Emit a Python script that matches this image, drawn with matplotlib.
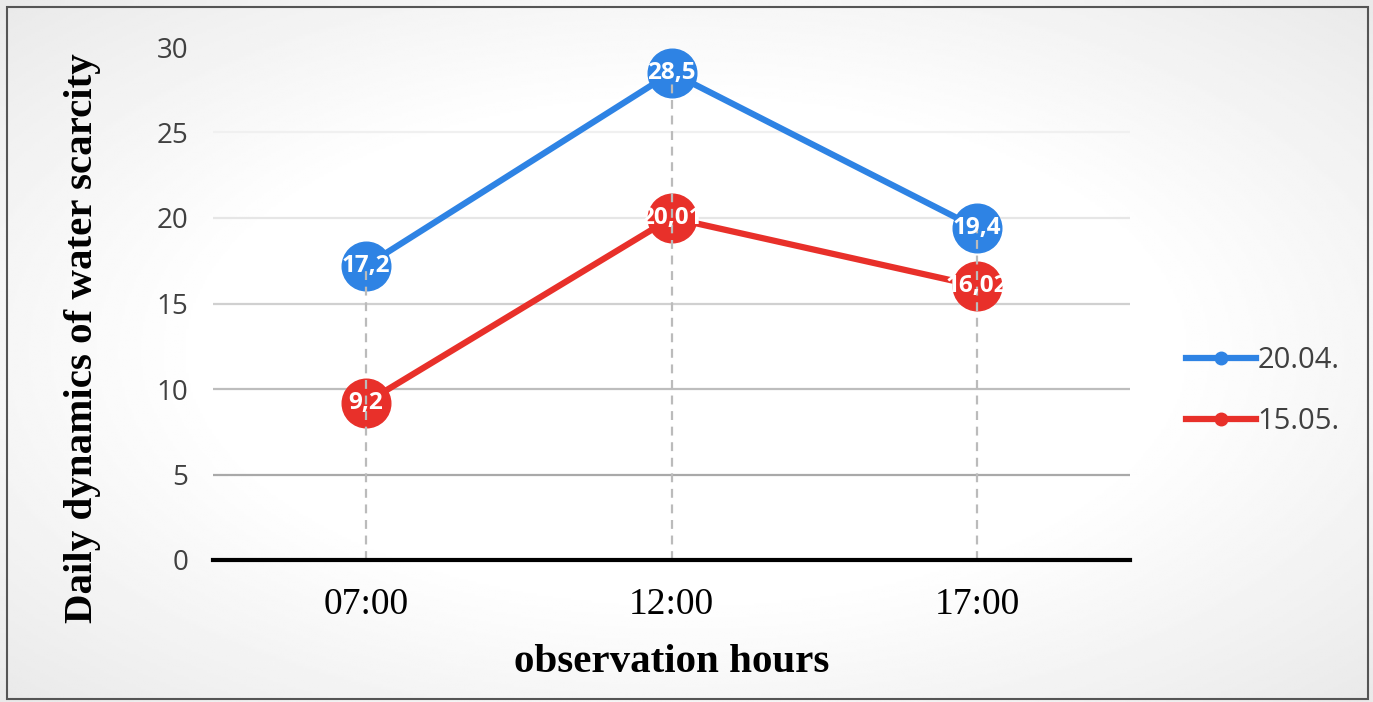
import numpy as np
import matplotlib
matplotlib.use('Agg')
import matplotlib.pyplot as plt
from matplotlib.lines import Line2D

# data
hours = ['07:00', '12:00', '17:00']
april = [17.2, 28.5, 19.4]
may = [9.2, 20.01, 16.02]
april_labels = ['17,2', '28,5', '19,4']
may_labels = ['9,2', '20,01', '16,02']
series_names = ['20.04.', '15.05.']

blue = '#2E83E4'
red = '#E8302A'
sans = ['Open Sans', 'DejaVu Sans']
serif = ['Liberation Serif', 'DejaVu Serif']

fig = plt.figure(figsize=(13.73, 7.02), dpi=100)

# background with a soft radial gradient and a thin border
bg = fig.add_axes([0, 0, 1, 1], zorder=-10)
yy, xx = np.mgrid[-1:1:300j, -1:1:600j]
r = np.sqrt(xx**2 + yy**2)
shade = 1 - 0.12 * np.clip(r - 0.7, 0, None)
bg.imshow(shade, cmap='gray', vmin=0, vmax=1, extent=[0, 1, 0, 1], aspect='auto')
bg.add_patch(plt.Rectangle((7/1373, 3/702), 1361/1373, 692/702, fill=False,
                           edgecolor='#555555', linewidth=1.5, transform=bg.transAxes))
bg.set_xlim(0, 1)
bg.set_ylim(0, 1)
bg.axis('off')

ax = fig.add_axes([213/1373, 142/702, 917/1373, 513/702])
ax.patch.set_alpha(0)
x = np.arange(len(hours))

# gridlines fade out towards the top
grid_colors = {5: '#a9a9a9', 10: '#bdbdbd', 15: '#d0d0d0', 20: '#e6e6e6', 25: '#f0f0f0'}
for level, c in grid_colors.items():
    ax.axhline(level, color=c, linewidth=1.6, zorder=1)

ax.plot(x, april, color=blue, linewidth=4.5, marker='o', markersize=35, zorder=3)
ax.plot(x, may, color=red, linewidth=4.5, marker='o', markersize=35, zorder=3)

# drop lines
tops = np.maximum(april, may)
ax.vlines(x, 0, tops, colors='#bbbbbb', linestyles=(0, (4, 3)), linewidth=1.6, zorder=4)

for xi, v, s in zip(x, april, april_labels):
    ax.text(xi, v, s, ha='center', va='center', color='white', fontsize=17.5,
            fontweight='bold', family=sans, zorder=5)
for xi, v, s in zip(x, may, may_labels):
    ax.text(xi, v, s, ha='center', va='center', color='white', fontsize=17.5,
            fontweight='bold', family=sans, zorder=5)

ax.set_xlim(-0.5, 2.5)
ax.set_ylim(0, 30)
ax.set_yticks([0, 5, 10, 15, 20, 25, 30])
ax.set_xticks(x)
ax.set_xticklabels(hours, family=serif, fontsize=27)
for t in ax.get_yticklabels():
    t.set_family(sans)
    t.set_fontsize(20)
    t.set_color('#404040')
ax.tick_params(axis='y', length=0, pad=18)
ax.tick_params(axis='x', length=0, pad=20)
for s in ['top', 'right', 'left']:
    ax.spines[s].set_visible(False)
ax.spines['bottom'].set_linewidth(3)
ax.spines['bottom'].set_color('black')
ax.spines['bottom'].set_zorder(6)

ax.set_xlabel('observation hours', family=serif, fontsize=29.5, fontweight='bold', labelpad=16)
ax.set_ylabel('Daily dynamics of water scarcity', family=serif, fontsize=29.5,
              fontweight='bold')
ax.yaxis.set_label_coords(-0.122, 0.433)

handles = [Line2D([], [], color=blue, linewidth=4.5, marker='o', markersize=9),
           Line2D([], [], color=red, linewidth=4.5, marker='o', markersize=9)]
leg = fig.legend(handles, series_names, loc='center left', bbox_to_anchor=(1160/1373, 1 - 391/702),
                 frameon=False, prop={'family': sans, 'size': 21}, handlelength=2.4,
                 handletextpad=0.05, labelspacing=1.1)
for t in leg.get_texts():
    t.set_color('#404040')

fig.savefig('out.png', dpi=100)
